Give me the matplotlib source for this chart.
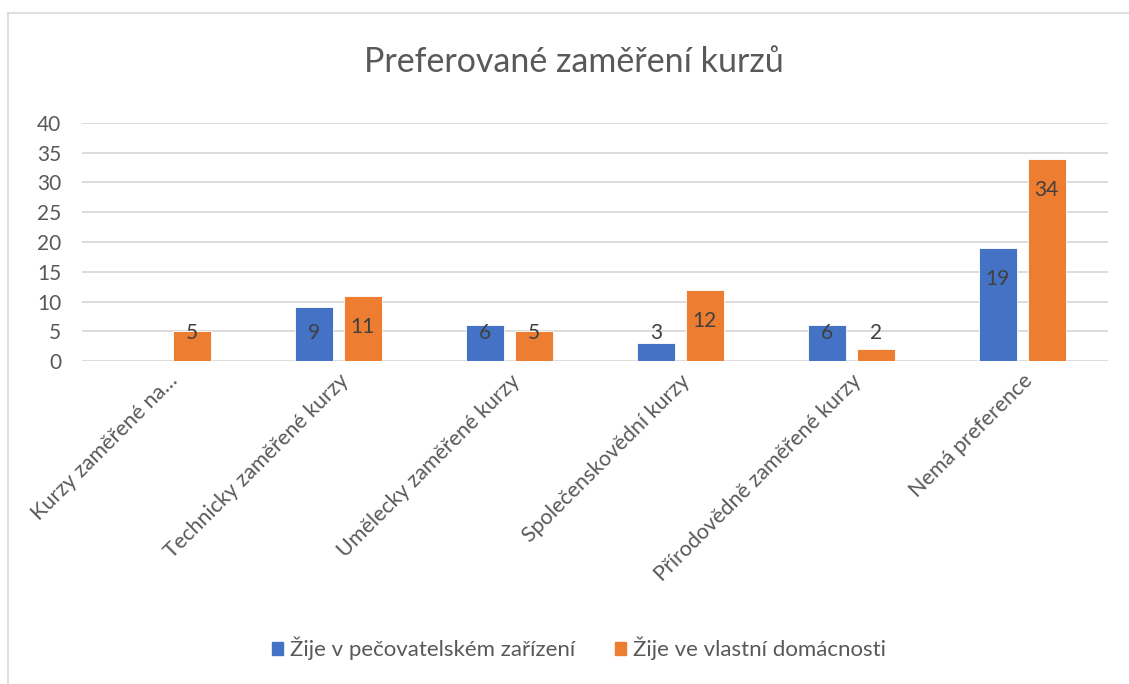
import matplotlib.pyplot as plt
import matplotlib.patches as mpatches
import numpy as np

plt.rcParams['font.family'] = ['Lato', 'DejaVu Sans']

categories = [
    "Kurzy zaměřené na…",
    "Technicky zaměřené kurzy",
    "Umělecky zaměřené kurzy",
    "Společenskovědní kurzy",
    "Přírodovědně zaměřené kurzy",
    "Nemá preference",
]
care_home = [0, 9, 6, 3, 6, 19]
own_home = [5, 11, 5, 12, 2, 34]
series_names = ["Žije v pečovatelském zařízení", "Žije ve vlastní domácnosti"]

BLUE = "#4472c4"
ORANGE = "#ed7d31"
TEXT = "#595959"
GRID = "#d9d9d9"

fig = plt.figure(figsize=(11.29, 6.84), dpi=100)
ax = fig.add_axes([0.0726, 0.4722, 0.9084, 0.348])

x = np.arange(len(categories))
w = 0.222
off = 0.143

ax.bar(x - off, care_home, w, color=BLUE, edgecolor="white", linewidth=0.6, zorder=3)
ax.bar(x + off, own_home, w, color=ORANGE, edgecolor="white", linewidth=0.6, zorder=3)

# labels sit inside the bar end, but never lower than just above the axis
for xs, vals in ((x - off, care_home), (x + off, own_home)):
    for xi, v in zip(xs, vals):
        if v == 0:
            continue
        ax.text(xi, max(v - 5.2, 4.7), str(v), ha="center", va="center",
                fontsize=15, color="#404040", zorder=4)

ax.set_xlim(-0.5, len(categories) - 0.5)
ax.set_ylim(0, 40)
ax.set_yticks(range(0, 41, 5))
ax.yaxis.grid(True, color=GRID, linewidth=1.3, zorder=0)
ax.set_axisbelow(True)
for s in ax.spines.values():
    s.set_visible(False)
ax.tick_params(axis="y", length=0, pad=15, labelsize=15, labelcolor=TEXT)
ax.tick_params(axis="x", length=0, pad=7, labelsize=15.5, labelcolor=TEXT)
ax.set_xticks(x)
ax.set_xticklabels(categories, rotation=45, ha="right", rotation_mode="anchor")

fig.text(0.508, 0.909, "Preferované zaměření kurzů", ha="center", va="center",
         fontsize=24.5, color=TEXT)

handles = [mpatches.Patch(color=BLUE, label=series_names[0]),
           mpatches.Patch(color=ORANGE, label=series_names[1])]
fig.legend(handles=handles, loc="center", bbox_to_anchor=(0.513, 0.052), ncol=2,
           frameon=False, fontsize=16, labelcolor=TEXT, handlelength=0.5,
           handleheight=0.5, handletextpad=0.3, columnspacing=1.8)

# chart frame (only the left and top edges fall inside the image)
fig.add_artist(plt.Line2D([0.0071, 0.0071], [0.0, 0.981], color=GRID, linewidth=1.2))
fig.add_artist(plt.Line2D([0.0071, 1.0], [0.981, 0.981], color=GRID, linewidth=1.2))

fig.savefig("out.png", dpi=100)
